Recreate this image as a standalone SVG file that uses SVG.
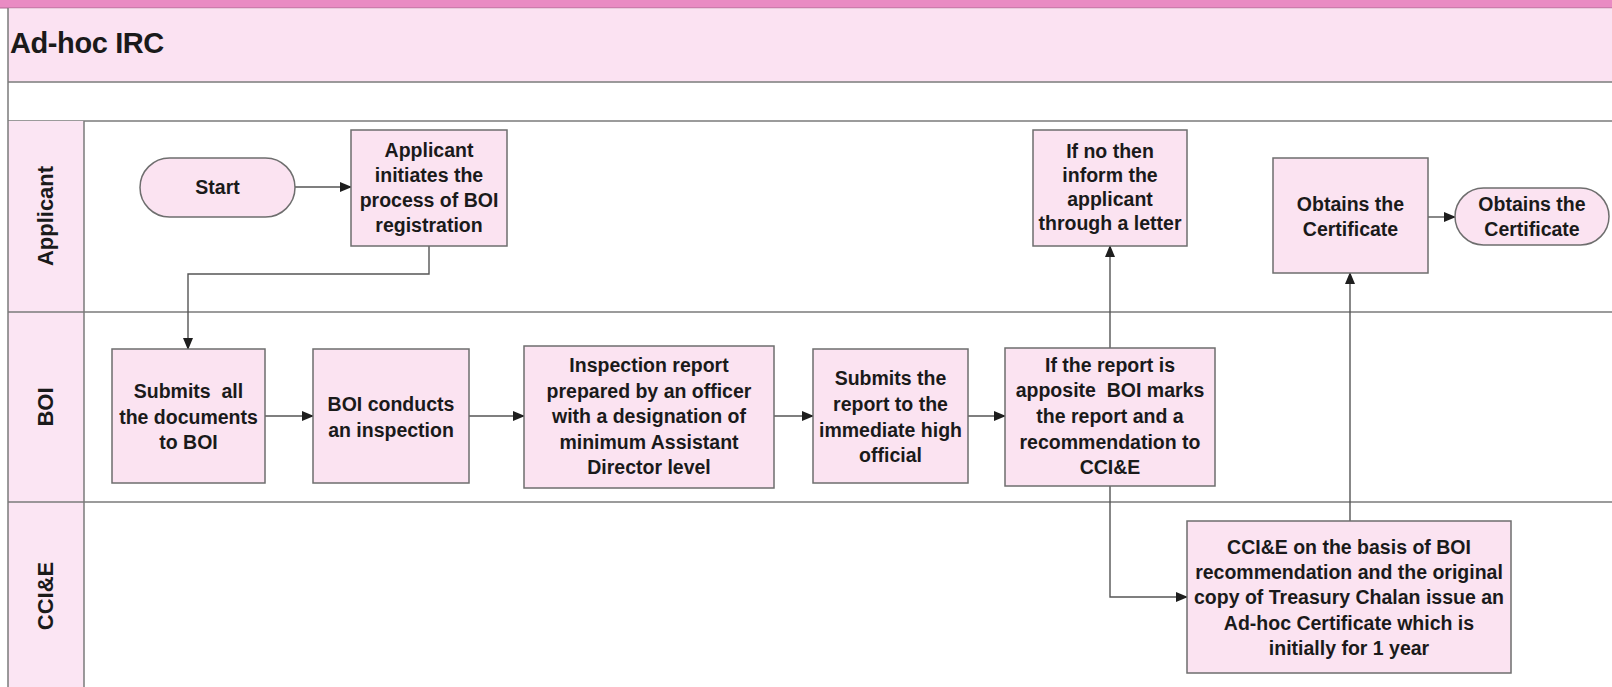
<svg xmlns="http://www.w3.org/2000/svg" width="1612" height="687" viewBox="0 0 1612 687">
<defs>
<style>
.lane{stroke:#7a7a7a;stroke-width:1.5;fill:none}
.box{fill:#fbe3f1;stroke:#6e6e6e;stroke-width:1.5}
.t{font-family:"Liberation Sans",Arial,sans-serif;font-weight:bold;font-size:19.5px;fill:#1a1a1a;text-anchor:middle;white-space:pre}
.lbl{font-family:"Liberation Sans",Arial,sans-serif;font-weight:bold;font-size:22px;fill:#1a1a1a;text-anchor:middle;dominant-baseline:central}
.c{stroke:#555;stroke-width:1.4;fill:none;marker-end:url(#ah)}
</style>
<marker id="ah" markerWidth="12" markerHeight="10" refX="11" refY="5" orient="auto" markerUnits="userSpaceOnUse">
<path d="M0,0 L12,5 L0,10 Z" fill="#1e1e1e"/>
</marker>
</defs>
<rect x="0" y="0" width="1612" height="687" fill="#ffffff"/>
<g id="pool">
<rect x="0" y="0" width="1612" height="8" fill="#e98bc3"/>
<line x1="0" y1="8" x2="1612" y2="8" stroke="#b06a94" stroke-width="1"/>
<rect x="8" y="8.5" width="1604" height="73" fill="#fbe2f2"/>
<line x1="8" y1="82" x2="1612" y2="82" class="lane"/>
<line x1="8" y1="121" x2="1612" y2="121" class="lane"/>
<rect x="8" y="121" width="76" height="566" fill="#fbe5f3"/>
<line x1="8" y1="312" x2="1612" y2="312" class="lane"/>
<line x1="8" y1="502" x2="1612" y2="502" class="lane"/>
<line x1="8" y1="8" x2="8" y2="687" class="lane"/>
<line x1="84" y1="121" x2="84" y2="687" class="lane"/>
<text x="10" y="53" font-family="'Liberation Sans',Arial,sans-serif" font-weight="bold" font-size="29" letter-spacing="-0.4" fill="#1a1a1a">Ad-hoc IRC</text>
<text class="lbl" transform="translate(45,216) rotate(-90)">Applicant</text>
<text class="lbl" transform="translate(45,407) rotate(-90)">BOI</text>
<text class="lbl" transform="translate(45,596) rotate(-90)">CCI&amp;E</text>
</g>
<g id="connectors">
<path class="c" d="M295,187 H351"/>
<path class="c" d="M429,246 V274 H188 V349"/>
<path class="c" d="M265,416 H313"/>
<path class="c" d="M469,416 H524"/>
<path class="c" d="M774,416 H813"/>
<path class="c" d="M968,416 H1005"/>
<path class="c" d="M1110,348 V246"/>
<path class="c" d="M1110,486 V597 H1187"/>
<path class="c" d="M1350,521 V273"/>
<path class="c" d="M1428,217 H1455"/>
</g>
<g id="start">
<rect class="box" x="140" y="158" width="155" height="59" rx="29.5"/>
<text class="t" x="217.5" y="194">Start</text>
</g>
<g id="applicant-initiates">
<rect class="box" x="351" y="130" width="156" height="116"/>
<text class="t" x="429" y="157">Applicant</text>
<text class="t" x="429" y="182">initiates the</text>
<text class="t" x="429" y="207">process of BOI</text>
<text class="t" x="429" y="232">registration</text>
</g>
<g id="submits-documents">
<rect class="box" x="112" y="349" width="153" height="134"/>
<text class="t" x="188.5" y="398">Submits  all</text>
<text class="t" x="188.5" y="424">the documents</text>
<text class="t" x="188.5" y="449">to BOI</text>
</g>
<g id="boi-conducts">
<rect class="box" x="313" y="349" width="156" height="134"/>
<text class="t" x="391" y="411">BOI conducts</text>
<text class="t" x="391" y="437">an inspection</text>
</g>
<g id="inspection-report">
<rect class="box" x="524" y="346" width="250" height="142"/>
<text class="t" x="649" y="372">Inspection report</text>
<text class="t" x="649" y="398">prepared by an officer</text>
<text class="t" x="649" y="423">with a designation of</text>
<text class="t" x="649" y="449">minimum Assistant</text>
<text class="t" x="649" y="474">Director level</text>
</g>
<g id="submits-report">
<rect class="box" x="813" y="349" width="155" height="134"/>
<text class="t" x="890.5" y="385">Submits the</text>
<text class="t" x="890.5" y="411">report to the</text>
<text class="t" x="890.5" y="437">immediate high</text>
<text class="t" x="890.5" y="462">official</text>
</g>
<g id="if-report-apposite">
<rect class="box" x="1005" y="348" width="210" height="138"/>
<text class="t" x="1110" y="372">If the report is</text>
<text class="t" x="1110" y="397">apposite  BOI marks</text>
<text class="t" x="1110" y="423">the report and a</text>
<text class="t" x="1110" y="449">recommendation to</text>
<text class="t" x="1110" y="474">CCI&amp;E</text>
</g>
<g id="if-no-inform">
<rect class="box" x="1033" y="130" width="154" height="116"/>
<text class="t" x="1110" y="158">If no then</text>
<text class="t" x="1110" y="182">inform the</text>
<text class="t" x="1110" y="206">applicant</text>
<text class="t" x="1110" y="230">through a letter</text>
</g>
<g id="cci-issue">
<rect class="box" x="1187" y="521" width="324" height="152"/>
<text class="t" x="1349" y="554">CCI&amp;E on the basis of BOI</text>
<text class="t" x="1349" y="579">recommendation and the original</text>
<text class="t" x="1349" y="604">copy of Treasury Chalan issue an</text>
<text class="t" x="1349" y="630">Ad-hoc Certificate which is</text>
<text class="t" x="1349" y="655">initially for 1 year</text>
</g>
<g id="obtain-box">
<rect class="box" x="1273" y="158" width="155" height="115"/>
<text class="t" x="1350.5" y="211">Obtains the</text>
<text class="t" x="1350.5" y="236">Certificate</text>
</g>
<g id="obtain-end">
<rect class="box" x="1455" y="188" width="154" height="57" rx="28.5"/>
<text class="t" x="1532" y="211">Obtains the</text>
<text class="t" x="1532" y="236">Certificate</text>
</g>
</svg>
